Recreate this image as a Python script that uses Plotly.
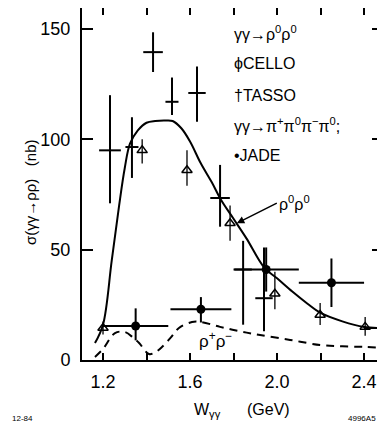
import plotly.graph_objects as go

# ---- data ----
tasso_w = [1.232, 1.333, 1.43, 1.517, 1.632, 1.738, 1.844, 1.94]
tasso_s = [95, 96.5, 139.5, 117, 121, 73.4, 41, 28]
tasso_up = [25, 13.5, 9, 11, 12, 15, 13, 23]
tasso_dn = [24, 14, 9, 6, 13, 13, 25, 15]
tasso_xe = [0.05, 0.03, 0.045, 0.03, 0.04, 0.045, 0.04, 0.04]

cello_w = [1.2, 1.38, 1.586, 1.784, 1.99, 2.198, 2.405]
cello_s = [14.5, 95, 86, 62, 30, 20.4, 15]
cello_up = [3, 5, 9, 8, 10, 5.4, 4.5]
cello_dn = [3, 6, 7, 8, 7, 4.5, 4]

jade_w = [1.35, 1.65, 1.95, 2.25, 2.48]
jade_s = [15.4, 23, 41, 35, 14.5]
jade_up = [8, 5.5, 10, 11, 6.5]
jade_dn = [6.5, 6, 10, 11, 7.5]
jade_xe = [0.15, 0.14, 0.15, 0.15, 0.08]

fit_w = [1.163, 1.2, 1.24, 1.274, 1.30, 1.324, 1.36, 1.40, 1.44, 1.48, 1.52, 1.56,
         1.60, 1.65, 1.70, 1.74, 1.80, 1.86, 1.94, 2.0, 2.07, 2.14, 2.2, 2.3, 2.4, 2.49]
fit_s = [7.7, 16, 45, 70, 87, 98, 104, 107.5, 108.3, 108.5, 108.3, 105,
         99, 89, 80.5, 73, 64, 55, 42, 37, 31, 25.5, 21.3, 17.5, 15, 14.5]

pm_w = [1.163, 1.2, 1.255, 1.30, 1.34, 1.366, 1.411, 1.44, 1.471, 1.51, 1.549, 1.609,
        1.651, 1.738, 1.83, 1.922, 2.06, 2.198, 2.3, 2.405, 2.49]
pm_s = [1.4, 5, 12.2, 12.7, 10, 7.7, 2.7, 3.5, 5.9, 10, 14.5, 17.2,
        17.2, 15, 13, 11.3, 9.1, 6.8, 6.2, 5.9, 5.4]

xtick_vals = [1.2, 1.6, 2.0, 2.4]
xtick_text = ["1.2", "1.6", "2.0", "2.4"]
ytick_vals = [0, 50, 100, 150]
ytick_text = ["0", "50", "100", "150"]

FONT = "Liberation Sans, Arial, sans-serif"
K = "black"

fig = go.Figure()

fig.add_trace(go.Scatter(x=fit_w, y=fit_s, mode="lines", line=dict(color=K, width=2, shape="spline"),
                         hoverinfo="skip"))
fig.add_trace(go.Scatter(x=pm_w, y=pm_s, mode="lines",
                         line=dict(color=K, width=2, dash="8px,6px", shape="spline"),
                         hoverinfo="skip"))

fig.add_trace(go.Scatter(
    x=tasso_w, y=tasso_s, mode="markers", marker=dict(size=1, color=K),
    error_y=dict(type="data", array=tasso_up, arrayminus=tasso_dn, color=K, thickness=2, width=0),
    error_x=dict(type="data", array=tasso_xe, color=K, thickness=2, width=0)))

fig.add_trace(go.Scatter(
    x=cello_w, y=cello_s, mode="markers",
    marker=dict(symbol="triangle-up-open", size=9, color=K, line=dict(width=1.5, color=K)),
    error_y=dict(type="data", array=cello_up, arrayminus=cello_dn, color=K, thickness=1.3, width=0)))

fig.add_trace(go.Scatter(
    x=jade_w, y=jade_s, mode="markers", marker=dict(symbol="circle", size=9, color=K),
    error_y=dict(type="data", array=jade_up, arrayminus=jade_dn, color=K, thickness=2, width=0),
    error_x=dict(type="data", array=jade_xe, color=K, thickness=2, width=0),
    cliponaxis=False))

# page body has an 8px margin: the figure is placed at (8, 8) on screen
OFF = 8
FW, FH = 385 - OFF, 432 - OFF
# plot-area edges in screen pixels
SL, SR, ST, SB = 82, 383, 8, 360
SW, SH = SR - SL, SB - ST


def px(x):
    return (x - SL) / SW


def py(y):
    return (SB - y) / SH


def note(text, sx, sy, size, xanchor="center", **kw):
    return dict(text=text, x=px(sx), y=py(sy), xref="paper", yref="paper",
                xanchor=xanchor, yanchor="middle", showarrow=False,
                font=dict(family=FONT, size=size, color=K), **kw)


ann = []
legend_lines = [
    ("γγ→ρ<sup>0</sup>ρ<sup>0</sup>", 33),
    ("ϕCELLO", 63),
    ("†TASSO", 95),
    ("γγ→π<sup>+</sup>π<sup>0</sup>π<sup>−</sup>π<sup>0</sup>;", 125),
    ("•JADE", 155),
]
for txt, yy in legend_lines:
    ann.append(note(txt, 232, yy, 16, xanchor="left"))

ann.append(dict(text="ρ<sup>0</sup>ρ<sup>0</sup>", x=1.815, y=62, xref="x", yref="y",
                ax=40, ay=-20, showarrow=True, arrowhead=2, arrowsize=1, arrowwidth=1.5,
                arrowcolor=K, font=dict(family=FONT, size=16, color=K), xanchor="left"))
ann.append(dict(text="ρ<sup>+</sup>ρ<sup>−</sup>", x=1.715, y=9, xref="x", yref="y",
                xanchor="center", yanchor="middle",
                showarrow=False, font=dict(family=FONT, size=17, color=K)))

ann.append(note("σ(γγ→ρρ)   (nb)", 30, 192, 15, textangle=-90))
ann.append(note("W<sub>γγ</sub>      (GeV)", 242, 410, 16))
ann.append(note("12-84", 22, 419, 8))
ann.append(note("4996A5", 362, 419, 8))

fig.update_layout(
    width=FW, height=FH,
    margin=dict(l=SL - OFF, r=FW - (SR - OFF), t=ST - OFF, b=FH - (SB - OFF), autoexpand=False),
    paper_bgcolor="white", plot_bgcolor="white",
    showlegend=False,
    annotations=ann,
    font=dict(family=FONT, color=K),
)

fig.update_xaxes(range=[1.1034, 2.487], showgrid=False, zeroline=False, automargin=False,
                 showline=True, linecolor=K, linewidth=2, mirror="ticks",
                 ticks="inside", ticklen=7, tickwidth=1.5, tickcolor=K,
                 tickvals=xtick_vals, ticktext=xtick_text, ticklabelstandoff=4,
                 tickfont=dict(family=FONT, size=18, color=K),
                 minor=dict(dtick=0.2, tick0=1.2, ticks="inside", ticklen=7, tickwidth=1.5, tickcolor=K))
fig.update_yaxes(range=[0, 159.5], showgrid=False, zeroline=False, automargin=False,
                 showline=True, linecolor=K, linewidth=2, mirror="ticks",
                 ticks="inside", ticklen=11, tickwidth=1.5, tickcolor=K,
                 tickvals=ytick_vals, ticktext=ytick_text, ticklabelstandoff=6,
                 tickfont=dict(family=FONT, size=18, color=K))

fig.write_html("out.html")
